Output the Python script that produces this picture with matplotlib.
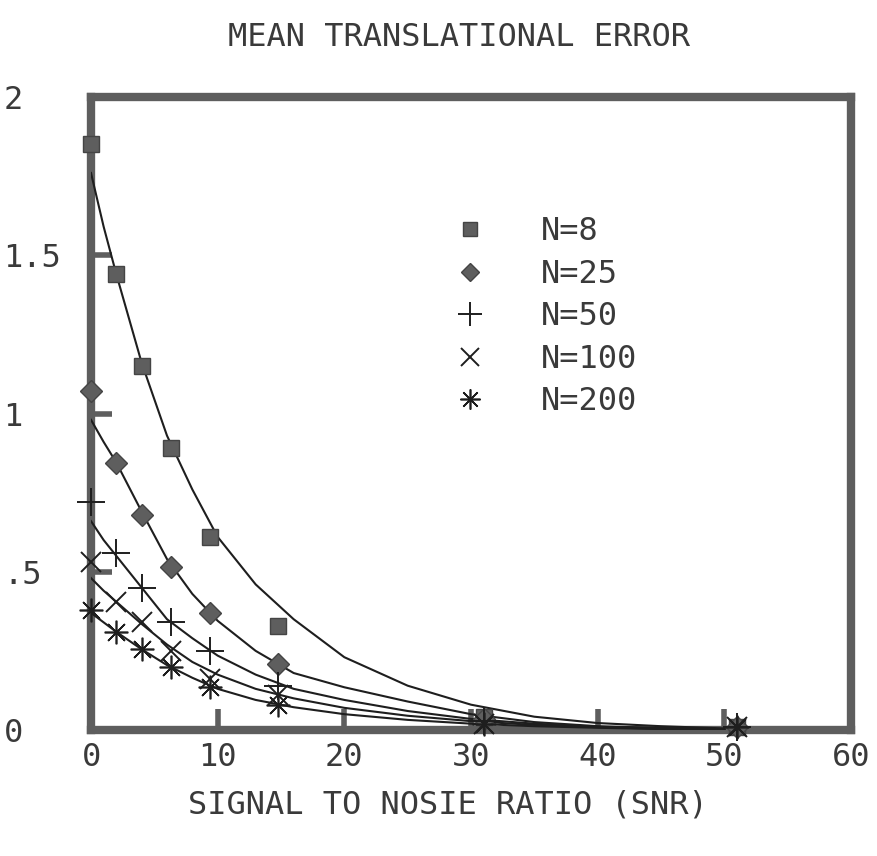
import numpy as np
import matplotlib
matplotlib.use("Agg")
import matplotlib.pyplot as plt
from matplotlib.lines import Line2D

# measured points (SNR vs mean translational error)
snr = [0, 2, 4, 6.3, 9.4, 14.8, 31, 51]
err_n8 = [1.85, 1.44, 1.15, 0.89, 0.61, 0.33, 0.04, 0.01]
err_n25 = [1.07, 0.845, 0.68, 0.515, 0.37, 0.21, 0.035, 0.01]
err_n50 = [0.72, 0.56, 0.45, 0.34, 0.25, 0.14, 0.03, 0.01]
err_n100 = [0.53, 0.405, 0.34, 0.25, 0.16, 0.11, 0.02, 0.01]
err_n200 = [0.38, 0.31, 0.255, 0.20, 0.135, 0.08, 0.02, 0.01]

# fitted curves
fit_x = [0, 1, 2, 4, 6, 8, 10, 13, 16, 20, 25, 30, 35, 40, 45, 50]
fit_n8 = [1.76, 1.59, 1.44, 1.16, 0.93, 0.76, 0.61, 0.46, 0.35, 0.23, 0.14, 0.08, 0.042, 0.022, 0.012, 0.005]
fit_n25 = [0.98, 0.91, 0.845, 0.69, 0.54, 0.43, 0.345, 0.25, 0.18, 0.135, 0.09, 0.05, 0.025, 0.012, 0.006, 0.003]
fit_n50 = [0.66, 0.60, 0.55, 0.45, 0.35, 0.29, 0.235, 0.175, 0.13, 0.095, 0.06, 0.035, 0.02, 0.01, 0.005, 0.002]
fit_n100 = [0.48, 0.44, 0.405, 0.335, 0.27, 0.215, 0.175, 0.13, 0.10, 0.07, 0.045, 0.028, 0.016, 0.009, 0.004, 0.002]
fit_n200 = [0.37, 0.34, 0.31, 0.255, 0.205, 0.165, 0.13, 0.095, 0.072, 0.05, 0.032, 0.02, 0.012, 0.007, 0.003, 0.001]

labels = ["N=8", "N=25", "N=50", "N=100", "N=200"]
xticks = [0, 10, 20, 30, 40, 50, 60]
yticks = [0, 0.5, 1, 1.5, 2]
ytick_labels = ["0", ".5", "1", "1.5", "2"]

grey = "#5e5e5e"
ink = "#1e1e1e"
txt = "#3a3a3a"
fs = 23
plt.rcParams["font.family"] = ["DejaVu Sans Mono"]

fig = plt.figure(figsize=(8.77, 8.56), dpi=100)
ax = fig.add_axes([91 / 877, 1 - 730 / 856, 760 / 877, 633 / 856])

for fy in [fit_n8, fit_n25, fit_n50, fit_n100, fit_n200]:
    ax.plot(fit_x, fy, color=ink, lw=1.5, zorder=3)

styles = [
    dict(marker="s", ms=12, mfc=grey, mec="#444444", mew=1),
    dict(marker="D", ms=11, mfc=grey, mec="#444444", mew=1),
    dict(marker="+", ms=20, mec=ink, mew=1.4),
    dict(marker="x", ms=15, mec=ink, mew=1.4),
    dict(marker=(8, 2, 0), ms=17, mec=ink, mew=1.2),
]
series = [err_n8, err_n25, err_n50, err_n100, err_n200]
handles = []
for ys, st, lab in zip(series, styles, labels):
    ax.plot(snr, ys, ls="none", clip_on=False, zorder=5, **st)
    hst = dict(st)
    hst["ms"] = st["ms"] * 0.85
    handles.append(Line2D([], [], ls="none", **hst))

ax.set_xlim(0, 60)
ax.set_ylim(0, 2)
for side in ["top", "bottom", "left", "right"]:
    ax.spines[side].set_linewidth(6)
    ax.spines[side].set_color(grey)

ax.set_xticks(xticks)
ax.set_xticklabels([str(t) for t in xticks])
ax.set_yticks(yticks)
ax.set_yticklabels(ytick_labels)
ax.tick_params(axis="both", direction="in", colors=grey, labelcolor=txt,
               labelsize=fs, width=4, length=15)
ax.tick_params(axis="x", pad=9)
ax.tick_params(axis="y", pad=63)
for lbl in ax.get_yticklabels():
    lbl.set_horizontalalignment("left")

leg = ax.legend(handles, labels, loc="upper left", bbox_to_anchor=(0.436, 0.857),
                frameon=False, fontsize=fs, handlelength=1.2, handletextpad=1.6,
                labelspacing=0.36, numpoints=1)
for t in leg.get_texts():
    t.set_color(txt)

fig.text(459 / 877, 1 - 38 / 856, "MEAN TRANSLATIONAL ERROR", ha="center",
         va="center", fontsize=fs, color=txt)
fig.text(448 / 877, 1 - 805 / 856, "SIGNAL TO NOSIE RATIO (SNR)", ha="center",
         va="center", fontsize=fs, color=txt)

fig.savefig("out.png", dpi=100)
